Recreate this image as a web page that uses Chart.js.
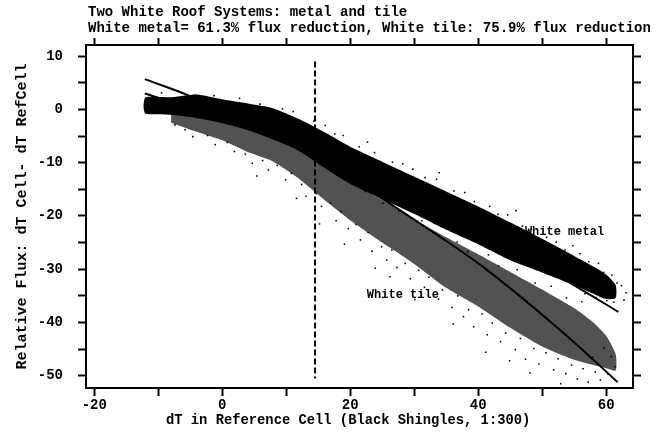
<!DOCTYPE html>
<html>
<head>
<meta charset="utf-8">
<title>Two White Roof Systems</title>
<script src="https://cdn.jsdelivr.net/npm/chart.js@4.4.1/dist/chart.umd.min.js"></script>
<style>
  html, body { margin: 0; padding: 0; background: #fff; }
  #wrap { width: 664px; height: 434px; }
</style>
</head>
<body>
<div id="wrap"><canvas id="chart" width="664" height="434"></canvas></div>
<script>
// ---- Text ----
const titleLines = [
  'Two White Roof Systems: metal and tile',
  'White metal= 61.3% flux reduction, White tile: 75.9% flux reduction'
];
const xTitle = 'dT in Reference Cell (Black Shingles, 1:300)';
const yTitle = 'Relative Flux: dT Cell- dT RefCell';
const seriesNames = ['White metal', 'White tile'];

// ---- Dense core of the white-metal cloud (upper / lower envelope) ----
const metalX      = [-12.3, -12, -8, -4, 0, 4, 8, 12, 16, 20, 25, 30, 35, 40, 45, 50, 55, 58, 60, 61.5];
const metalTop    = [1.0, 2.3, 2.3, 2.8, 1.9, 1.1, 0.2, -1.8, -4.3, -7.0, -9.8, -12.6, -15.4, -18.2, -21.2, -24.3, -27.5, -29.5, -31.0, -33.0];
const metalBottom = [0.2, -0.8, -1.0, -1.6, -2.6, -3.9, -5.6, -7.8, -11.0, -14.0, -16.8, -19.6, -22.6, -25.3, -28.3, -30.6, -33.0, -34.6, -35.6, -35.4];

// ---- Speckled core of the white-tile cloud (upper / lower envelope) ----
const tileX      = [-8, -4, 0, 4, 8, 12, 16, 20, 25, 30, 35, 40, 45, 50, 55, 58, 60, 61.5];
const tileTop    = [-0.5, -1.2, -2.2, -3.5, -5.0, -7.2, -10.5, -13.5, -17.0, -20.6, -24.0, -27.2, -30.5, -33.8, -37.3, -40.0, -42.5, -46.0];
const tileBottom = [-2.5, -4.2, -5.8, -8.0, -9.8, -13.0, -17.0, -20.8, -25.0, -29.0, -33.5, -37.0, -41.0, -44.5, -47.0, -48.0, -48.6, -49.0];

// ---- Scattered readings outside the dense cores ----
const metalDotX = [-9.5, -6.8, -1.3, 2.7, 5.9, 9.4, 11.1, 14.3, 17.6, 18.9, 21.4, 23.8, 26.6, 28.2, 31.7, 33.5, 36.2, 37.9, 39.4, 41.8, 43.1, 44.6, 46.9, 48.3, 50.7, 52.2, 53.6, 55.9, 57.3, 58.8, 59.6, 60.9, 61.7, 62.4, 63.1, 62.8, 61.2, 60.1, 58.4, 56.7, 33.9, 22.7, 45.9, 54.8, 16.1, 29.8];
const metalDotY = [3.1, 3.4, 2.6, 2.1, 1.0, 0.1, -0.4, -2.2, -4.6, -4.9, -7.0, -8.1, -9.9, -10.2, -12.8, -13.1, -15.3, -15.6, -17.3, -18.2, -19.7, -19.8, -21.9, -22.5, -24.0, -24.9, -26.4, -27.1, -28.6, -28.9, -30.6, -31.1, -32.6, -33.1, -34.4, -35.8, -36.2, -35.9, -35.3, -34.6, -11.9, -6.1, -19.0, -25.6, -3.0, -11.2];

const midDotX = [22.3, 25.1, 27.6, 31.2, 33.9, 36.7, 38.4, 41.6, 43.2, 46.1, 48.9, 51.4, 53.8, 56.2];
const midDotY = [-15.4, -17.6, -19.1, -20.9, -23.8, -24.9, -26.7, -27.3, -29.4, -30.1, -32.6, -33.2, -35.4, -36.1];

const tileDotX = [-7.4, -5.8, -4.6, -2.3, -1.1, 0.8, 1.9, 3.6, 4.7, 6.3, 7.2, 8.6, 9.9, 10.8, 12.4, 13.1, 14.7, 15.5, 16.9, 17.8, 18.6, 19.7, 20.9, 21.6, 22.8, 23.4, 24.9, 25.7, 26.5, 27.3, 28.6, 29.4, 30.7, 31.6, 32.3, 33.8, 34.4, 35.9, 36.8, 37.7, 38.5, 39.3, 40.6, 41.4, 42.2, 43.5, 44.3, 45.8, 46.6, 47.4, 48.7, 49.5, 50.6, 51.8, 52.5, 53.7, 54.6, 55.5, 56.4, 57.2, 58.3, 59.1, 60.3, 61.4, 60.8, 59.7, 57.9, 11.6, 19.1, 26.2, 36.1, 44.9, 52.9, 15.2, 30.1, 41.2, 5.4, 23.9, 48.1];
const tileDotY = [-2.9, -3.8, -5.1, -4.9, -6.6, -6.2, -7.9, -8.4, -10.1, -9.6, -11.4, -10.5, -13.2, -12.0, -14.1, -16.3, -15.8, -18.2, -17.6, -20.9, -19.2, -22.4, -21.6, -24.5, -23.1, -26.6, -25.8, -28.3, -26.4, -29.7, -28.9, -31.8, -30.2, -33.4, -31.5, -35.6, -33.9, -37.2, -35.0, -38.9, -37.6, -40.8, -38.4, -42.3, -40.1, -43.6, -42.0, -45.1, -43.0, -46.9, -44.9, -47.8, -45.7, -48.9, -46.8, -49.6, -48.0, -50.6, -48.7, -51.2, -49.3, -50.8, -49.7, -48.3, -46.4, -44.8, -46.5, -16.7, -25.3, -31.4, -40.3, -47.2, -51.5, -21.5, -35.7, -45.6, -12.5, -29.8, -49.5];

// ---- Fitted curves ----
const metalFitX = [-12.1, -6, 0, 10, 20, 30, 40, 50, 56.4, 61.9];
const metalFitY = [3.0, 0.7, -1.8, -6.4, -11.4, -17.0, -23.0, -29.5, -34.0, -38.0];
const tileFitX  = [-12.1, -5.4, 0, 10, 20, 30, 40.8, 52.8, 61.8];
const tileFitY  = [5.7, 2.7, -0.3, -6.2, -13.0, -20.7, -29.6, -41.4, -51.2];

// ---- Vertical marker ----
const markerX = [14.5, 14.5];
const markerY = [9, -50.5];

// ---- Axis ticks ----
const xTickStep = 10, xLabelEvery = 20;
const yTickStep = 5,  yLabelEvery = 10;

// helpers
const pts = (xs, ys) => xs.map((x, i) => ({ x, y: ys[i] }));
const band = (xs, top, bottom) => pts(xs, top).concat(pts(xs, bottom).reverse());

const MONO = '"Liberation Mono", "DejaVu Sans Mono", monospace';
Chart.defaults.font.family = MONO;
Chart.defaults.font.weight = 'bold';
Chart.defaults.color = '#000';

const X_MIN = -21.3, X_MAX = 64.2, Y_MIN = -52.3, Y_MAX = 12.1;

const tickGrid = (len) => ({
  drawOnChartArea: false, drawTicks: true, tickLength: len,
  tickWidth: 2, tickColor: '#000'
});
const frame = { display: true, color: '#000', width: 2 };
const dotStyle = { showLine: false, pointStyle: 'rect', pointRadius: 1.1, pointBorderWidth: 0,
                   pointBackgroundColor: '#000', order: 1 };

const textPlugin = {
  id: 'chartText',
  afterDraw(chart) {
    const { ctx } = chart;
    const x = chart.scales.x, y = chart.scales.y;
    ctx.save();
    ctx.fillStyle = '#000';
    ctx.textBaseline = 'middle';
    ctx.textAlign = 'left';
    ctx.font = 'bold 14px ' + MONO;
    ctx.fillText(titleLines[0], 88, 12);
    ctx.fillText(titleLines[1], 88, 28);
    ctx.font = 'bold 13.8px ' + MONO;
    ctx.fillText(xTitle, 166, 421);
    ctx.font = 'bold 12px ' + MONO;
    ctx.fillText(seriesNames[0], x.getPixelForValue(47.3), y.getPixelForValue(-23.0));
    ctx.fillText(seriesNames[1], x.getPixelForValue(22.6), y.getPixelForValue(-34.9));
    ctx.restore();
  }
};

new Chart(document.getElementById('chart'), {
  type: 'line',
  data: {
    datasets: [
      { label: 'metal fit', data: pts(metalFitX, metalFitY), borderColor: '#000', borderWidth: 2,
        pointRadius: 0, tension: 0.35, fill: false, order: 0 },
      { label: 'tile fit', data: pts(tileFitX, tileFitY), borderColor: '#000', borderWidth: 2,
        pointRadius: 0, tension: 0.35, fill: false, order: 0 },
      { label: 'marker', data: pts(markerX, markerY), borderColor: '#000', borderWidth: 2,
        borderDash: [6, 3], pointRadius: 0, fill: false, order: 0 },
      Object.assign({ label: 'metal scatter', data: pts(metalDotX, metalDotY) }, dotStyle),
      Object.assign({ label: 'mid scatter', data: pts(midDotX, midDotY) }, dotStyle),
      Object.assign({ label: 'tile scatter', data: pts(tileDotX, tileDotY) }, dotStyle),
      { label: 'metal cloud', data: band(metalX, metalTop, metalBottom), borderWidth: 0,
        pointRadius: 0, backgroundColor: '#000', fill: 'shape', tension: 0.2, order: 2 },
      { label: 'tile cloud', data: band(tileX, tileTop, tileBottom), borderWidth: 0,
        pointRadius: 0, backgroundColor: 'rgba(0,0,0,0.68)', fill: 'shape', tension: 0.2, order: 3 }
    ]
  },
  options: {
    responsive: false,
    animation: false,
    devicePixelRatio: 1,
    layout: { padding: 0 },
    plugins: { legend: { display: false }, tooltip: { enabled: false }, title: { display: false } },
    scales: {
      x: {
        type: 'linear', position: 'bottom', min: X_MIN, max: X_MAX,
        ticks: { stepSize: xTickStep, includeBounds: false, autoSkip: false, maxRotation: 0,
                 padding: 1, font: { size: 14, weight: 'bold' }, color: '#000',
                 callback: v => (v % xLabelEvery === 0 ? String(v) : '') },
        grid: tickGrid(8), border: frame,
        afterFit(s) { s.height = 46; }
      },
      x2: {
        type: 'linear', axis: 'x', position: 'top', min: X_MIN, max: X_MAX,
        ticks: { stepSize: xTickStep, includeBounds: false, autoSkip: false, maxRotation: 0,
                 callback: () => '' },
        grid: tickGrid(7), border: frame,
        afterFit(s) { s.height = 45; }
      },
      y: {
        type: 'linear', position: 'left', min: Y_MIN, max: Y_MAX,
        ticks: { stepSize: yTickStep, includeBounds: false, autoSkip: false,
                 padding: 15, font: { size: 14, weight: 'bold' }, color: '#000',
                 callback: v => (v % yLabelEvery === 0 ? String(v) : '') },
        grid: tickGrid(8), border: frame,
        title: { display: true, text: yTitle, color: '#000',
                 font: { size: 15, weight: 'bold' }, padding: { top: 13, bottom: 0 } },
        afterFit(s) { s.width = 86; }
      },
      y2: {
        type: 'linear', axis: 'y', position: 'right', min: Y_MIN, max: Y_MAX,
        ticks: { stepSize: yTickStep, includeBounds: false, autoSkip: false, callback: () => '' },
        grid: tickGrid(8), border: frame,
        afterFit(s) { s.width = 31; }
      }
    }
  },
  plugins: [textPlugin]
});
</script>
</body>
</html>
